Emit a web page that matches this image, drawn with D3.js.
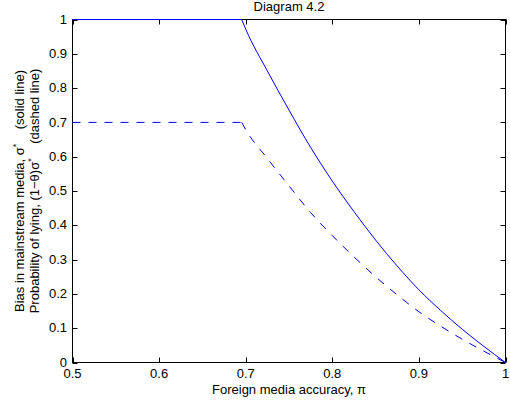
<!DOCTYPE html>
<html lang="en">
<head>
  <meta charset="UTF-8">
  <title>Diagram 4.2</title>
  <script src="https://d3js.org/d3.v7.min.js"></script>
  <style>
    body { margin: 0; background: white; }
    svg { display: block; font-family: "Liberation Sans", Arial, sans-serif; }
  </style>
</head>
<body>
<svg width="510" height="406"></svg>
<script>
  // values
  const accuracy = [0.5, 0.6954, 0.70, 0.725, 0.75, 0.775, 0.80, 0.825, 0.85, 0.875, 0.90, 0.925, 0.95, 0.975, 1.0];
  const bias     = [1.0, 1.0, 0.972, 0.850, 0.736, 0.627, 0.529, 0.440, 0.357, 0.281, 0.212, 0.152, 0.097, 0.047, 0.0];
  const lying    = [0.7, 0.7, 0.679, 0.595, 0.515, 0.437, 0.370, 0.308, 0.250, 0.197, 0.148, 0.106, 0.068, 0.033, 0.0];
  const xTicks = [0.5, 0.6, 0.7, 0.8, 0.9, 1];
  const yTicks = [0, 0.1, 0.2, 0.3, 0.4, 0.5, 0.6, 0.7, 0.8, 0.9, 1];

  const svg = d3.select("svg");
  const x = d3.scaleLinear().domain([0.5, 1]).range([72.5, 505.5]);
  const y = d3.scaleLinear().domain([0, 1]).range([362.5, 19.5]);
  const fmt = d => d === 0 || d === 1 ? String(d) : d3.format(".1f")(d);

  // plot frame
  svg.append("rect")
    .attr("x", x(0.5)).attr("y", y(1))
    .attr("width", x(1) - x(0.5)).attr("height", y(0) - y(1))
    .attr("fill", "white").attr("stroke", "black").attr("stroke-width", 1);

  // inward ticks on all four sides
  const tickLen = 5;
  const g = svg.append("g").attr("stroke", "black").attr("stroke-width", 1);
  xTicks.forEach(t => {
    const px = Math.round(x(t)) + 0.5;
    g.append("line").attr("x1", px).attr("x2", px).attr("y1", y(0)).attr("y2", y(0) - tickLen);
    g.append("line").attr("x1", px).attr("x2", px).attr("y1", y(1)).attr("y2", y(1) + tickLen);
  });
  yTicks.forEach(t => {
    const py = Math.round(y(t)) + 0.5;
    g.append("line").attr("y1", py).attr("y2", py).attr("x1", x(0.5)).attr("x2", x(0.5) + tickLen);
    g.append("line").attr("y1", py).attr("y2", py).attr("x1", x(1)).attr("x2", x(1) - tickLen);
  });

  // tick labels
  svg.append("g").selectAll("text").data(xTicks).join("text")
    .attr("x", d => x(d)).attr("y", 378)
    .attr("text-anchor", "middle").attr("font-size", 13)
    .text(fmt);
  svg.append("g").selectAll("text").data(yTicks).join("text")
    .attr("x", 67).attr("y", d => y(d))
    .attr("dy", "0.32em")
    .attr("text-anchor", "end").attr("font-size", 13)
    .text(fmt);

  // curves: flat part straight, falling part smooth
  const pts = vals => accuracy.map((a, i) => [a, vals[i]]);
  const flat = d3.line().x(d => x(d[0])).y(d => y(d[1]));
  const fall = d3.line().x(d => x(d[0])).y(d => y(d[1])).curve(d3.curveMonotoneX);

  function drawSeries(vals, dash) {
    const p = pts(vals);
    [[flat, p.slice(0, 2)], [fall, p.slice(1)]].forEach(([gen, data]) => {
      svg.append("path").datum(data)
        .attr("d", gen).attr("fill", "none")
        .attr("stroke", "#0000ff").attr("stroke-width", 1)
        .attr("stroke-dasharray", dash);
    });
  }
  drawSeries(bias, null);
  drawSeries(lying, "8,8");

  // title and axis labels
  svg.append("text").attr("x", 289).attr("y", 11)
    .attr("text-anchor", "middle").attr("font-size", 13)
    .text("Diagram 4.2");

  svg.append("text").attr("x", 289).attr("y", 394)
    .attr("text-anchor", "middle").attr("font-size", 13)
    .text("Foreign media accuracy, π");

  const gap = "\u00A0\u00A0\u00A0\u00A0";
  const yl1 = svg.append("text").attr("transform", "translate(23.5,191) rotate(-90)")
    .attr("text-anchor", "middle").attr("font-size", 13);
  yl1.append("tspan").text("Bias in mainstream media, σ");
  yl1.append("tspan").attr("dy", -5).attr("font-size", 9).text("*");
  yl1.append("tspan").attr("dy", 5).text(gap + "(solid line)");

  const yl2 = svg.append("text").attr("transform", "translate(38.5,191) rotate(-90)")
    .attr("text-anchor", "middle").attr("font-size", 13);
  yl2.append("tspan").text("Probability of lying, (1−θ)σ");
  yl2.append("tspan").attr("dy", -5).attr("font-size", 9).text("*");
  yl2.append("tspan").attr("dy", 5).text(gap + "(dashed line)");
</script>
</body>
</html>
